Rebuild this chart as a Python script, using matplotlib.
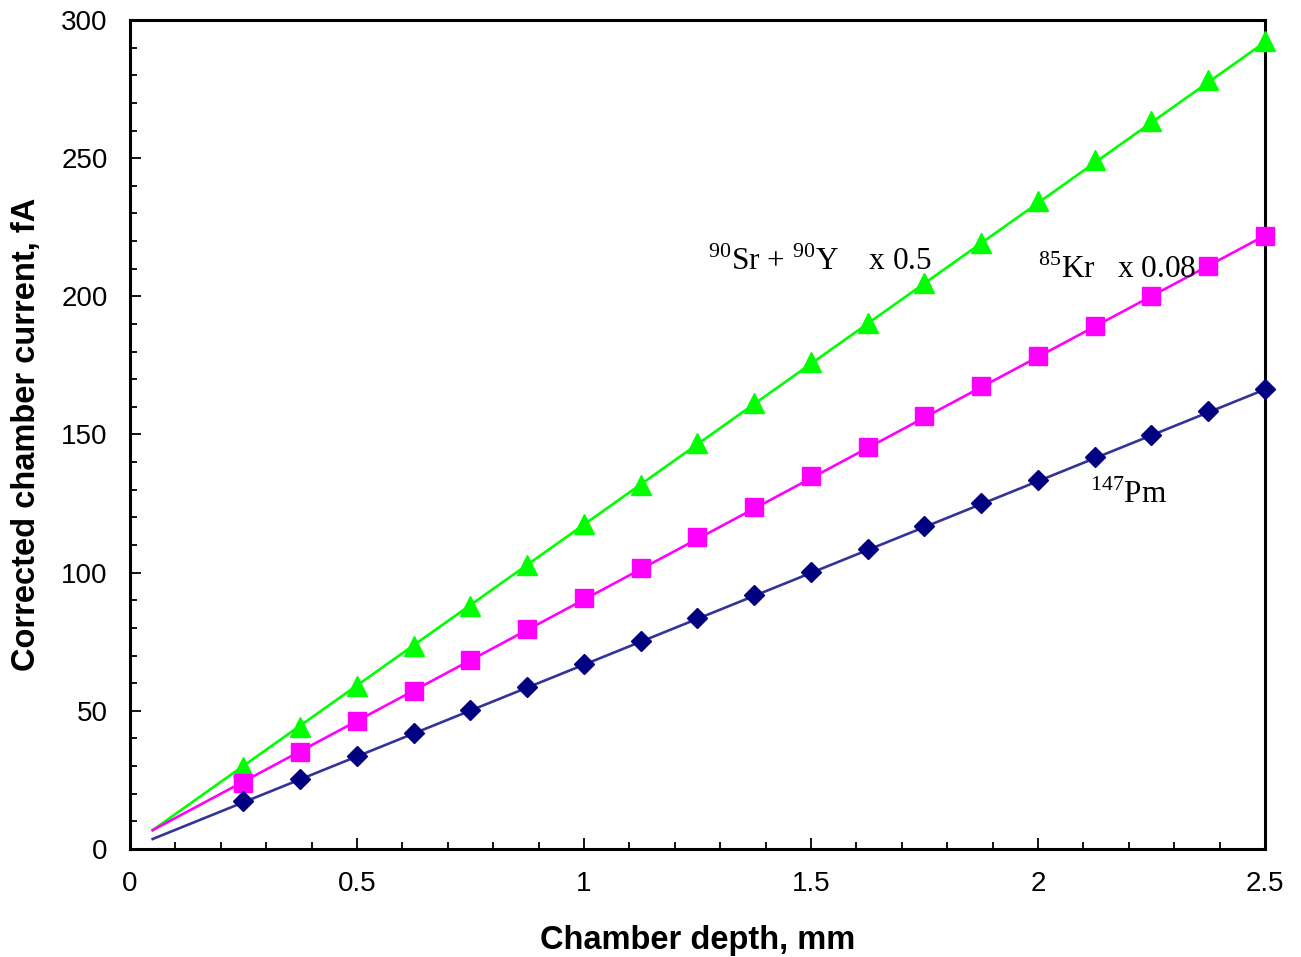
import matplotlib
matplotlib.use("Agg")
import matplotlib.pyplot as plt
from matplotlib.ticker import MultipleLocator

plt.rcParams['font.family'] = ['Liberation Sans', 'DejaVu Sans']
plt.rcParams['mathtext.fontset'] = 'custom'
plt.rcParams['mathtext.rm'] = 'Liberation Serif'

depth = [0.25, 0.375, 0.5, 0.625, 0.75, 0.875, 1.0, 1.125, 1.25, 1.375,
         1.5, 1.625, 1.75, 1.875, 2.0, 2.125, 2.25, 2.375, 2.5]
sr_y = [29.7, 44.0, 59.0, 73.5, 88.0, 102.8, 117.6, 131.7, 147.0, 161.4,
        176.3, 190.4, 204.9, 219.3, 234.5, 249.4, 263.5, 278.3, 292.4]
kr = [23.9, 35.1, 46.3, 57.2, 68.4, 79.6, 90.8, 101.7, 112.9, 123.8,
      135.0, 145.5, 156.7, 167.6, 178.4, 189.3, 200.1, 211.0, 221.9]
pm = [17.4, 25.3, 33.7, 42.0, 50.3, 58.6, 67.0, 75.3, 83.6, 91.9,
      100.3, 108.6, 116.9, 125.2, 133.5, 141.9, 149.8, 158.5, 166.5]

fit_x = [0.05, 2.5]
sr_fit = [6.8, 292.0]
kr_fit = [6.8, 222.0]
pm_fit = [3.6, 166.3]

fig = plt.figure(figsize=(13.01, 9.57), dpi=100)
ax = fig.add_axes([0.0999, 0.1129, 0.8724, 0.8662])

ax.plot(fit_x, sr_fit, color='#00FF00', lw=1.9, zorder=2)
ax.plot(fit_x, kr_fit, color='#FF00FF', lw=1.9, zorder=2)
ax.plot(fit_x, pm_fit, color='#333399', lw=1.9, zorder=2)

ax.plot(depth, sr_y, ls='none', marker='^', ms=15, color='#00FF00', zorder=3, clip_on=False)
ax.plot(depth, kr, ls='none', marker='s', ms=13.5, color='#FF00FF', zorder=3, clip_on=False)
ax.plot(depth, pm, ls='none', marker='D', ms=10.3, color='#000080', zorder=3, clip_on=False)

ax.set_xlim(0, 2.5)
ax.set_ylim(0, 300)
ax.xaxis.set_major_locator(MultipleLocator(0.5))
ax.xaxis.set_minor_locator(MultipleLocator(0.1))
ax.yaxis.set_major_locator(MultipleLocator(50))
ax.yaxis.set_minor_locator(MultipleLocator(10))
ax.set_xticks([0, 0.5, 1, 1.5, 2, 2.5])
ax.set_xticklabels(['0', '0.5', '1', '1.5', '2', '2.5'])
ax.tick_params(which='both', direction='in', top=False, right=False, labelsize=20, width=1.3)
ax.tick_params(which='major', length=8, pad=16)
ax.tick_params(which='minor', length=5)
for s in ax.spines.values():
    s.set_linewidth(2.2)

ax.set_xlabel('Chamber depth, mm', fontsize=23.5, fontweight='bold', labelpad=20)
ax.set_ylabel('Corrected chamber current, fA', fontsize=23.5, fontweight='bold', labelpad=14)

tfont = dict(family='Liberation Serif', fontsize=22.5, va='baseline')
ax.text(1.273, 209.5, r'$^{\mathrm{90}}$Sr + $^{\mathrm{90}}$Y    x 0.5', **tfont)
ax.text(2.0, 206.6, r'$^{\mathrm{85}}$Kr   x 0.08', **tfont)
ax.text(2.115, 125.2, r'$^{\mathrm{147}}$Pm', **tfont)

fig.savefig('out.png', dpi=100)
